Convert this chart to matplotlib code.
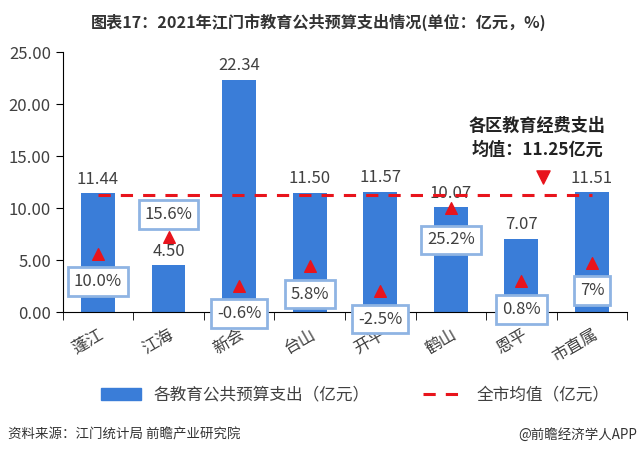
import matplotlib.pyplot as plt
import numpy as np

plt.rcParams['font.family'] = ['Noto Sans CJK SC', 'DejaVu Sans']

# 2021年江门市各区教育公共预算支出
districts = ['蓬江', '江海', '新会', '台山', '开平', '鹤山', '恩平', '市直属']
spend = [11.44, 4.50, 22.34, 11.50, 11.57, 10.07, 7.07, 11.51]   # 亿元
growth = [10.0, 15.6, -0.6, 5.8, -2.5, 25.2, 0.8, 7.0]            # %
growth_labels = ['10.0%', '15.6%', '-0.6%', '5.8%', '-2.5%', '25.2%', '0.8%', '7%']
city_mean = 11.25

bar_color = '#3a7dd8'
red = '#e8141c'
# 增速标签框相对三角形的偏移（像素点）
label_offsets = [-20, 16, -20, -20, -20, -23, -20, -20]

fig = plt.figure(figsize=(6.4, 4.57), dpi=100)
ax = fig.add_axes([0.098, 0.317, 0.882, 0.569])

x = np.arange(len(districts))
ax.bar(x, spend, width=0.48, color=bar_color, zorder=2)
for xi, v in zip(x, spend):
    ax.annotate(f'{v:.2f}', (xi, v), xytext=(0, 4), textcoords='offset points',
                ha='center', va='bottom', fontsize=12, color='#404040', zorder=3)

ax.plot([x[0], x[-1]], [city_mean, city_mean], color=red, lw=2.2,
        dashes=(4, 3.3), zorder=4)

ax.set_xlim(-0.5, len(districts) - 0.5)
ax.set_ylim(0, 25)
ax.set_yticks(np.arange(0, 25.1, 5))
ax.set_yticklabels([f'{t:.2f}' for t in np.arange(0, 25.1, 5)])
ax.set_xticks(x)
ax.set_xticklabels(districts, rotation=30, ha='right', rotation_mode='anchor')
ax.set_xticks(np.arange(-0.5, len(districts), 1), minor=True)
ax.tick_params(axis='x', which='major', length=0, pad=10, labelsize=12, labelcolor='#404040')
ax.tick_params(axis='x', which='minor', length=6, color='black')
ax.tick_params(axis='y', length=5, labelsize=12, labelcolor='#404040')
for s in ['top', 'right']:
    ax.spines[s].set_visible(False)

# 增速：隐藏副轴上的红色三角形
ax2 = ax.twinx()
ax2.set_ylim(-9.4, 77)
ax2.axis('off')
ax2.scatter(x, growth, marker='^', s=70, color=red, zorder=5)
for xi, g, lab, off in zip(x, growth, growth_labels, label_offsets):
    ax2.annotate(lab, (xi, g), xytext=(0, off), textcoords='offset points',
                 ha='center', va='center', fontsize=12, color='#404040', zorder=6,
                 bbox=dict(boxstyle='square,pad=0.35', fc='white', ec='#8fb4e3', lw=2))

ax.annotate('各区教育经费支出\n均值：11.25亿元', (6.3, 13.0), xytext=(-4, 13),
            textcoords='offset points', ha='center', va='bottom',
            fontsize=12.3, fontweight='bold', color='#222222', linespacing=1.45)
ax.scatter([6.3], [13.0], marker='v', s=90, color=red, zorder=5)

fig.text(0.498, 0.952, '图表17：2021年江门市教育公共预算支出情况(单位：亿元，%)',
         ha='center', va='center', fontsize=11.6, fontweight='bold', color='#333333')

h1 = plt.Rectangle((0, 0), 1, 1, color=bar_color)
h2 = plt.Line2D([], [], color=red, lw=2.2, dashes=(4, 3.3))
fig.legend([h1, h2], ['各教育公共预算支出（亿元）', '全市均值（亿元）'],
           loc='center', bbox_to_anchor=(0.555, 0.135), ncol=2, frameon=False,
           fontsize=12, handlelength=2.4, columnspacing=3.2, labelcolor='#404040')

fig.text(0.012, 0.048, '资料来源：江门统计局 前瞻产业研究院', ha='left', va='center',
         fontsize=9.7, color='#333333')
fig.text(0.995, 0.048, '@前瞻经济学人APP', ha='right', va='center',
         fontsize=9.7, color='#333333')

fig.savefig('out.png', dpi=100)
